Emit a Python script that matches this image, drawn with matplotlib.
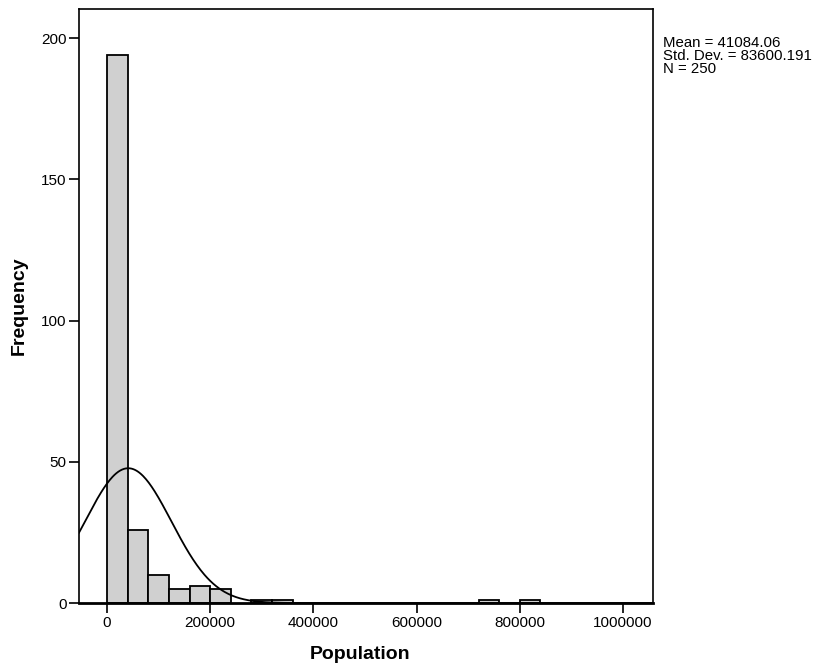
import numpy as np
import matplotlib.pyplot as plt

plt.rcParams['font.family'] = ['Liberation Sans', 'DejaVu Sans']

# histogram bins (width 40000) and counts
bin_edges = np.arange(0, 880000 + 1, 40000)
counts = [194, 26, 10, 5, 6, 5, 0, 1, 1, 0, 0, 0, 0, 0, 0, 0, 0, 0, 1, 0, 1, 0]

mean = 41084.06
std = 83600.191
n = 250
bin_width = 40000

fig = plt.figure(figsize=(8.16, 6.71), dpi=100)
ax = fig.add_axes([0.0968, 0.1013, 0.7034, 0.8853])

lefts = bin_edges[:-1]
nz = [i for i, c in enumerate(counts) if c > 0]
ax.bar([lefts[i] for i in nz], [counts[i] for i in nz], width=bin_width, align='edge',
       color='#d0d0d0', edgecolor='black', linewidth=1.3, zorder=2)

xmin, xmax = -54300, 1058000

# normal curve scaled to the histogram
xs = np.linspace(xmin, xmax, 600)
ys = n * bin_width / (std * np.sqrt(2 * np.pi)) * np.exp(-0.5 * ((xs - mean) / std) ** 2)
ax.plot(xs, ys, color='black', linewidth=1.3, zorder=3)

ax.set_xlim(xmin, xmax)
ax.set_ylim(0, 210.3)
ax.set_xticks([0, 200000, 400000, 600000, 800000, 1000000])
ax.set_xticklabels(['0', '200000', '400000', '600000', '800000', '1000000'])
ax.set_yticks([0, 50, 100, 150, 200])
ax.tick_params(direction='out', length=7.5, width=1.2, labelsize=11, colors='black', pad=1.5)
for s in ax.spines.values():
    s.set_linewidth(1.2)
ax.spines['bottom'].set_linewidth(2)

ax.set_xlabel('Population', fontsize=14, fontweight='bold')
ax.set_ylabel('Frequency', fontsize=14, fontweight='bold')
ax.xaxis.set_label_coords(0.4895, -0.072)
ax.yaxis.set_label_coords(-0.09, 0.5)

fig.text(0.8125, 0.946, 'Mean = 41084.06\nStd. Dev. = 83600.191\nN = 250',
         fontsize=10.8, va='top', ha='left', linespacing=0.92)

fig.savefig('out.png', dpi=100)
